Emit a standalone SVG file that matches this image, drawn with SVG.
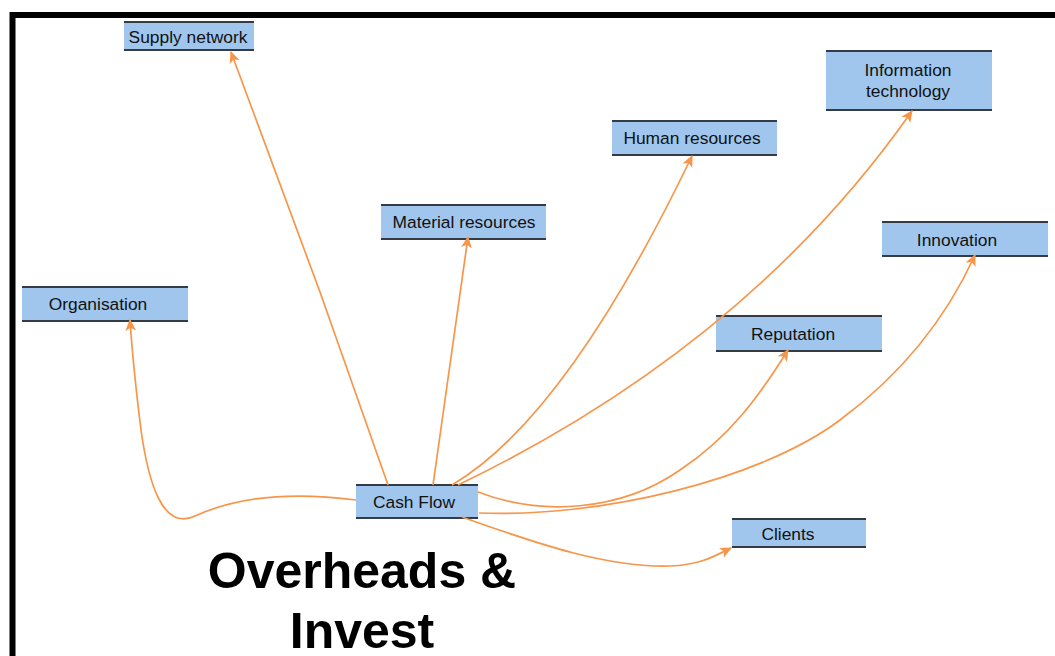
<svg xmlns="http://www.w3.org/2000/svg" width="1055" height="656" viewBox="0 0 1055 656">
<style>
.box{fill:#a0c6ee;}
.edge{stroke:#353b45;stroke-width:2;fill:none;}
.lbl{font-family:"Liberation Sans",Arial,sans-serif;font-size:17.4px;fill:#111;text-anchor:middle;}
.con{stroke:#f7964a;stroke-width:1.7;fill:none;marker-end:url(#ah);}
.title{font-family:"Liberation Sans",Arial,sans-serif;font-weight:bold;font-size:50px;fill:#000;text-anchor:middle;}
</style>
<defs>
<marker id="ah" viewBox="0 0 10 10" refX="9" refY="5" markerWidth="12" markerHeight="12" markerUnits="userSpaceOnUse" orient="auto">
<path d="M0,0.5 L10,5 L0,9.5 L2.5,5 Z" fill="#f7964a"/>
</marker>
</defs>
<rect x="0" y="0" width="1055" height="656" fill="#fff"/>
<path d="M12.5,656 V15 H1055" stroke="#000" stroke-width="6" fill="none"/>

<g id="node-supply">
<rect class="box" x="124" y="22" width="130" height="28"/>
<path class="edge" d="M124,22 H254 M124,50 H254"/>
<text class="lbl" x="188" y="43">Supply network</text>
</g>
<g id="node-organisation">
<rect class="box" x="22" y="287" width="166" height="34"/>
<path class="edge" d="M22,287 H188 M22,321 H188"/>
<text class="lbl" x="98" y="310">Organisation</text>
</g>
<g id="node-material">
<rect class="box" x="381" y="205" width="165" height="34"/>
<path class="edge" d="M381,205 H546 M381,239 H546"/>
<text class="lbl" x="464" y="228">Material resources</text>
</g>
<g id="node-human">
<rect class="box" x="612" y="121" width="165" height="34"/>
<path class="edge" d="M612,121 H777 M612,155 H777"/>
<text class="lbl" x="692" y="144">Human resources</text>
</g>
<g id="node-it">
<rect class="box" x="826" y="51" width="166" height="59"/>
<path class="edge" d="M826,51 H992 M826,110 H992"/>
<text class="lbl" x="908" y="76">Information</text>
<text class="lbl" x="908" y="97">technology</text>
</g>
<g id="node-innovation">
<rect class="box" x="882" y="222" width="166" height="34"/>
<path class="edge" d="M882,222 H1048 M882,256 H1048"/>
<text class="lbl" x="957" y="246">Innovation</text>
</g>
<g id="node-reputation">
<rect class="box" x="716" y="316" width="166" height="35"/>
<path class="edge" d="M716,316 H882 M716,351 H882"/>
<text class="lbl" x="793" y="340">Reputation</text>
</g>
<g id="node-clients">
<rect class="box" x="732" y="519" width="134" height="28"/>
<path class="edge" d="M732,519 H866 M732,547 H866"/>
<text class="lbl" x="788" y="540">Clients</text>
</g>
<g id="node-cashflow">
<rect class="box" x="356" y="485" width="122" height="33"/>
<path class="edge" d="M356,485 H478 M356,518 H478"/>
<text class="lbl" x="414" y="508">Cash Flow</text>
</g>

<g id="connectors">
<path class="con" d="M388,485 L320,292 Q316,280 231,52"/>
<path class="con" d="M433,485 L468,237"/>
<path class="con" d="M452,485 Q566,418 692,156"/>
<path class="con" d="M458,485 Q748,345 912,111"/>
<path class="con" d="M478,492 C540,516 620,512 680,470 C730,437 760,395 788,350"/>
<path class="con" d="M479,513 C600,518 760,480 840,420 C910,368 950,310 975,255"/>
<path class="con" d="M462,517 C540,545 610,568 670,566 C700,565 715,556 731,548"/>
<path class="con" d="M356,500 C280,490 230,500 195,516 C162,532 148,480 141,430 C136,390 132,350 130,320"/>
</g>

<text class="title" x="362" y="588">Overheads &amp;</text>
<text class="title" x="362" y="648">Invest</text>
</svg>
